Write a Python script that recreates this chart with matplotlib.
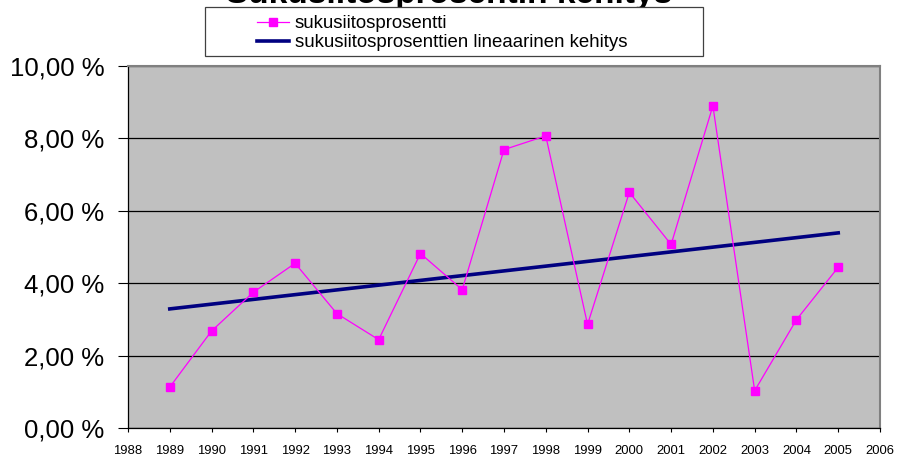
import matplotlib
matplotlib.use("Agg")
import matplotlib.pyplot as plt
from matplotlib.patches import Rectangle

years = [1989, 1990, 1991, 1992, 1993, 1994, 1995, 1996, 1997,
         1998, 1999, 2000, 2001, 2002, 2003, 2004, 2005]
percent = [1.13, 2.68, 3.75, 4.55, 3.16, 2.44, 4.82, 3.82, 7.69,
           8.07, 2.86, 6.51, 5.07, 8.90, 1.03, 2.99, 4.44]
trend_years = [1989, 2005]
trend_values = [3.29, 5.39]

title = "Sukusiitosprosentin kehitys"
label_series = "sukusiitosprosentti"
label_trend = "sukusiitosprosenttien lineaarinen kehitys"

plt.rcParams["font.family"] = ["Liberation Sans", "DejaVu Sans"]

fig = plt.figure(figsize=(8.98, 4.57), dpi=100)
ax = fig.add_axes([128 / 898, 1 - 428 / 457, 752 / 898, 362 / 457])
ax.set_facecolor("#C0C0C0")

line1, = ax.plot(years, percent, color="#FF00FF", linewidth=0.9,
                 marker="s", markersize=5.5, markeredgecolor="#FF00FF", zorder=3)
line2, = ax.plot(trend_years, trend_values, color="#000080", linewidth=2.6, zorder=2)

ax.set_xlim(1988, 2006)
ax.set_ylim(0, 10)
ax.set_xticks(range(1988, 2007))
ax.set_yticks([0, 2, 4, 6, 8, 10])
ax.set_yticklabels(["%d,00 %%" % v for v in [0, 2, 4, 6, 8, 10]])
ax.grid(axis="y", color="black", linewidth=0.9, zorder=1)
ax.set_axisbelow(True)

ax.tick_params(axis="y", direction="out", length=7, width=0.8, pad=10, labelsize=18.5)
ax.tick_params(axis="x", direction="out", length=3, width=0.8, pad=9, labelsize=9.4)

for s in ["left", "bottom"]:
    ax.spines[s].set_color("black")
    ax.spines[s].set_linewidth(0.9)
for s in ["top", "right"]:
    ax.spines[s].set_color("#808080")
    ax.spines[s].set_linewidth(1.5)

# title, mostly cut off by the top edge as in the original
fig.text(0.5, 1 - 3 / 457, title, ha="center", va="baseline",
         fontsize=24, fontweight="bold")

# legend box
fig.patches.append(Rectangle((205 / 898, 1 - 56 / 457), 498 / 898, 49 / 457,
                             transform=fig.transFigure, facecolor="white",
                             edgecolor="#404040", linewidth=0.9, zorder=5))
leg = fig.legend([line1, line2], [label_series, label_trend],
                 loc="upper left", bbox_to_anchor=(257 / 898, 1 - 15 / 457),
                 frameon=False, fontsize=13.4, borderpad=0, borderaxespad=0,
                 handlelength=1.72, handletextpad=0.32, labelspacing=0.12)
leg.set_zorder(6)

fig.savefig("out.png", dpi=100)
